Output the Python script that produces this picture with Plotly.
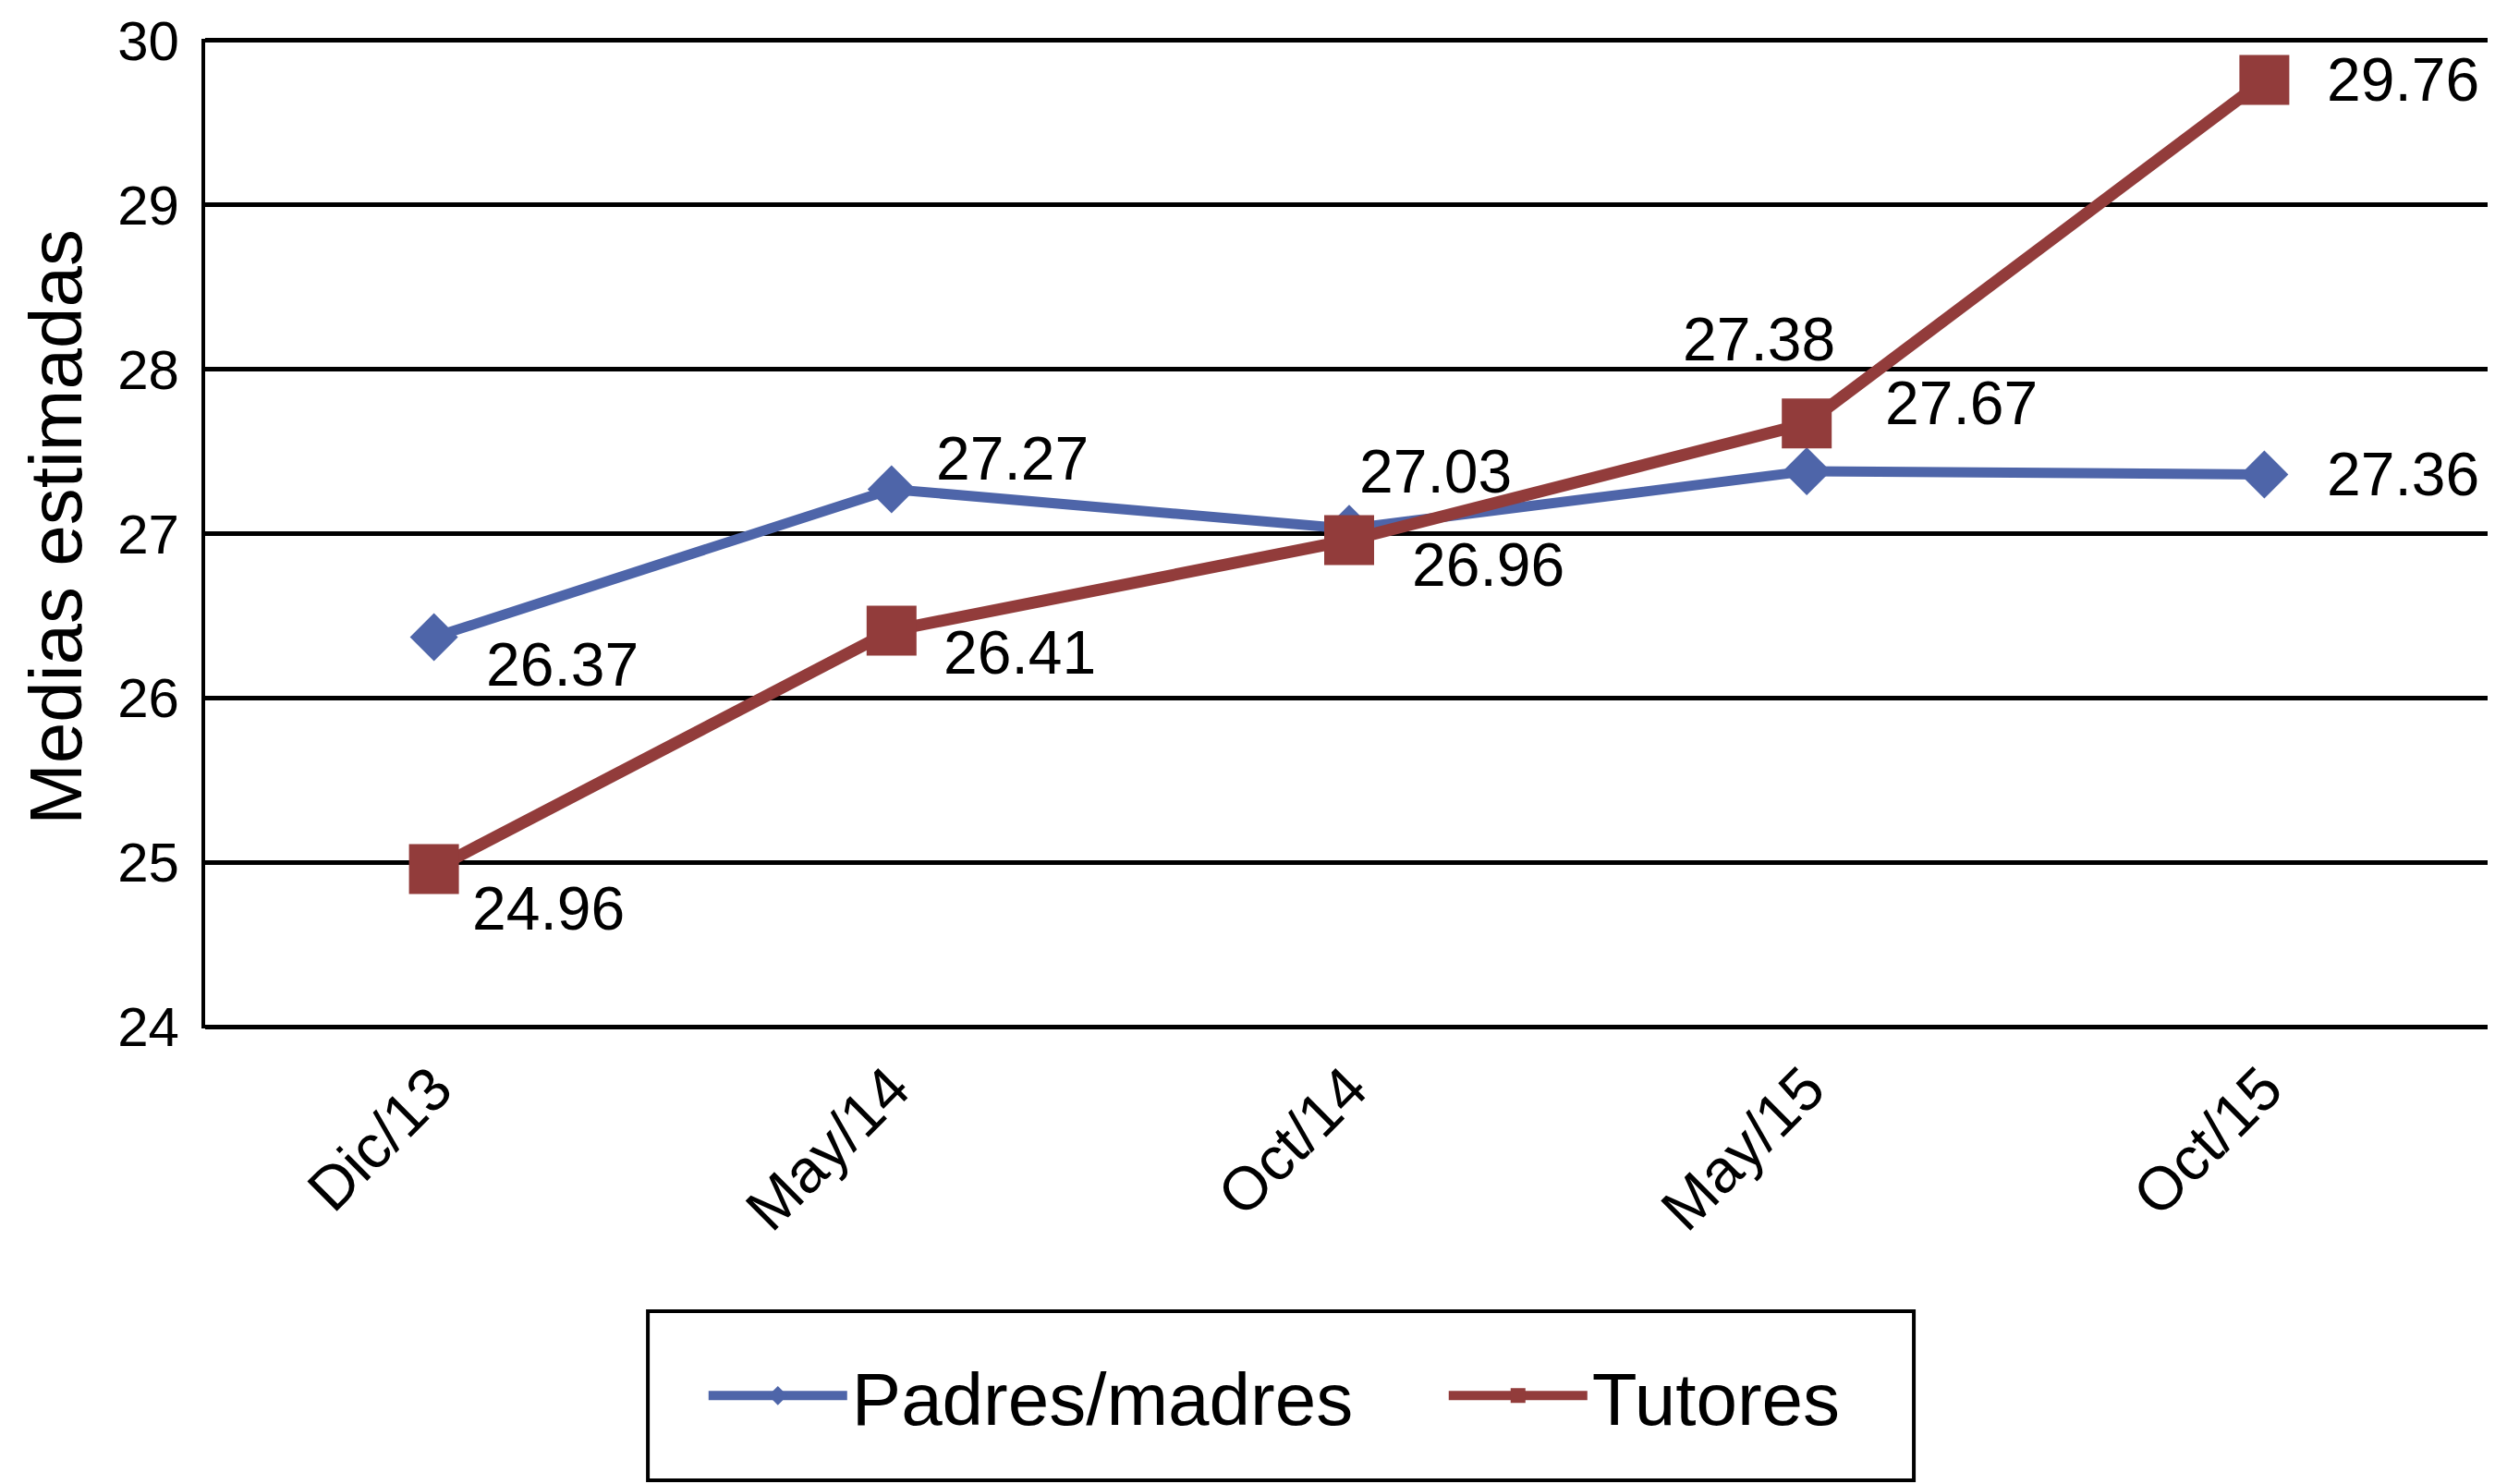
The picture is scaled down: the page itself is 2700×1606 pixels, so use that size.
import plotly.graph_objects as go

# data
periodos = ["Dic/13", "May/14", "Oct/14", "May/15", "Oct/15"]
padres = [26.37, 27.27, 27.03, 27.38, 27.36]
tutores = [24.96, 26.41, 26.96, 27.67, 29.76]
y_ticks = [24, 25, 26, 27, 28, 29, 30]

BLUE = "#4E65A9"
RED = "#923C3B"
FONT = "Liberation Sans, Arial, Helvetica, sans-serif"

# label offsets in pixels (x right, y up) for each point
padres_shift = [(139, -29), (131, 33), (93, 62), (-52, 143), (150, 0)]
tutores_shift = [(124, -43), (139, -24), (150, -26), (167, 22), (150, 0)]

fig = go.Figure()

fig.add_trace(go.Scatter(
    x=periodos, y=padres, name="Padres/madres",
    mode="lines+markers",
    line=dict(color=BLUE, width=11),
    marker=dict(symbol="diamond", size=40, color=BLUE),
))
fig.add_trace(go.Scatter(
    x=periodos, y=tutores, name="Tutores",
    mode="lines+markers",
    line=dict(color=RED, width=13),
    marker=dict(symbol="square", size=54, color=RED),
))

for serie, shifts in ((padres, padres_shift), (tutores, tutores_shift)):
    for p, v, (dx, dy) in zip(periodos, serie, shifts):
        fig.add_annotation(
            x=p, y=v, text=f"{v:.2f}", showarrow=False,
            xshift=dx, yshift=dy,
            font=dict(size=66, color="black", family=FONT),
        )

# y axis title
fig.add_annotation(
    text="Medias estimadas", textangle=-90, showarrow=False,
    xref="paper", yref="paper", x=-0.0655, y=0.507,
    xanchor="center", yanchor="middle",
    font=dict(size=80, color="black", family=FONT),
)

# legend frame
fig.add_shape(
    type="rect", xref="paper", yref="paper",
    x0=0.1935, x1=0.7468, y0=-0.4566, y1=-0.2857,
    line=dict(color="black", width=4), fillcolor="white",
    layer="below",
)

# page body has an 8px margin, so the figure is 8px smaller than the window
fig.update_layout(
    width=2692, height=1598,
    margin=dict(l=214, r=2, t=34, b=493, autoexpand=False),
    plot_bgcolor="white", paper_bgcolor="white",
    font=dict(family=FONT, size=66, color="black"),
    showlegend=True,
    legend=dict(
        orientation="h", x=0.218, y=-0.371,
        xanchor="left", yanchor="middle",
        font=dict(size=80, family=FONT),
        bgcolor="rgba(0,0,0,0)", borderwidth=0,
        itemsizing="trace", itemwidth=150, entrywidth=636,
    ),
    xaxis=dict(
        type="category", range=[-0.5, 4.5],
        tickangle=-45, showgrid=False, zeroline=False,
        showline=False, ticks="",
        tickfont=dict(size=66),
        ticklabelstandoff=12,
    ),
    yaxis=dict(
        range=[23.99, 30.01], tickvals=y_ticks,
        showgrid=True, gridcolor="black", gridwidth=5,
        zeroline=False, showline=True, linecolor="black", linewidth=4,
        ticks="", tickfont=dict(size=60),
        ticklabelstandoff=12, ticklabeloverflow="allow",
    ),
)

fig.write_html("out.html")
